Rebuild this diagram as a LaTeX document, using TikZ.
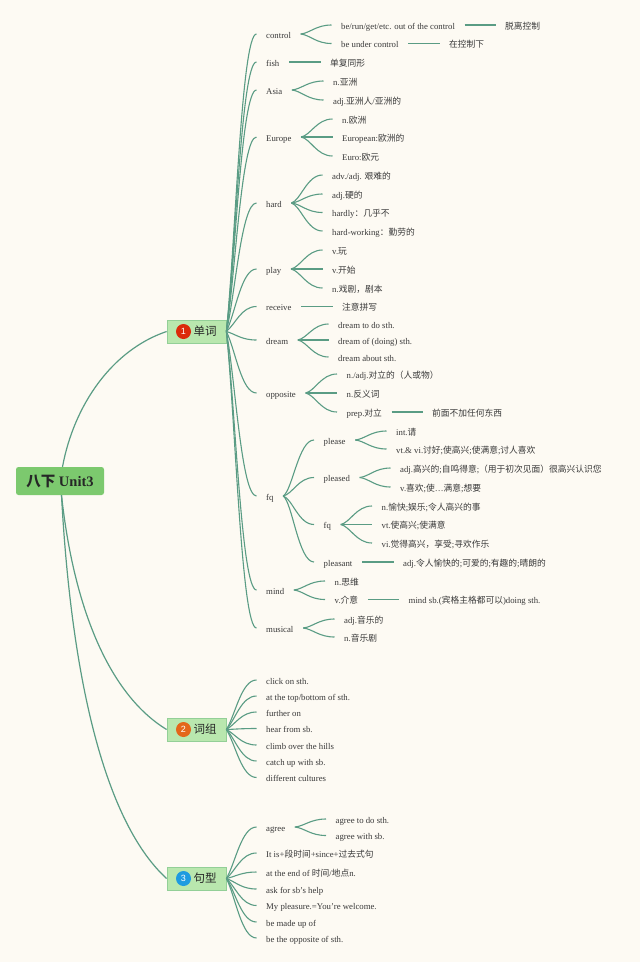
\documentclass[tikz,border=0pt]{standalone}
\usepackage{fontspec}
\setmainfont{Liberation Serif}
\newfontfamily\cjk{Noto Sans CJK SC}
\newfontfamily\sansf{Liberation Sans}
\newcommand{\zh}[1]{{\cjk #1}}
\usetikzlibrary{calc}
\definecolor{bgc}{HTML}{FDFAF3}
\definecolor{linec}{HTML}{5A9C84}
\definecolor{txt}{HTML}{3A3A3A}
\definecolor{rootc}{HTML}{7CC96E}
\definecolor{boxc}{HTML}{B9E7AE}
\definecolor{boxb}{HTML}{93CF97}
\definecolor{bdga}{HTML}{DC2A0B}
\definecolor{bdgb}{HTML}{E4661A}
\definecolor{bdgc}{HTML}{1E9BE0}
\tikzset{
 itm/.style={anchor=west,inner xsep=9.5pt,inner ysep=0pt,text height=8.5pt,text depth=.5pt,font=\fontsize{8.75}{10}\selectfont,text=txt},
 lnk/.style={draw=linec,line width=1.1pt,to path={let \p1=(\tikztostart),\p2=(\tikztotarget) in .. controls ({\x1+0.3*(\x2-\x1)},{\y1+0.1*(\y2-\y1)}) and ({\x1+0.5*(\x2-\x1)},\y2) .. (\tikztotarget)}},
 trunk/.style={draw=linec,line width=1.1pt,to path={let \p1=(\tikztostart),\p2=(\tikztotarget) in .. controls ({\x1+0.3*(\x2-\x1)},{\y1+0.3*(\y2-\y1)}) and ({\x1+0.5*(\x2-\x1)},\y2) .. (\tikztotarget)}},
 topic/.style={draw=boxb,fill=boxc,line width=.8pt,minimum width=59pt,minimum height=23pt,inner sep=0pt},
 badge/.style={circle,minimum size=15pt,inner sep=0pt,text=white,font=\sansf\fontsize{9}{10}\selectfont},
 toplbl/.style={anchor=west,inner sep=0pt,text=black!85,font=\cjk\fontsize{11.5}{12}\selectfont},
 rootn/.style={fill=rootc,rounded corners=2.5pt,minimum width=88pt,minimum height=28pt,inner sep=0pt,font=\bfseries\fontsize{14.5}{16}\selectfont,text=black!85},
}
\newcommand{\nd}[4]{\node[itm] (#1) at ({#2-9.5},{#3-1}) {#4};}
\newcommand{\lk}[2]{\draw[lnk] (#1.east) to (#2.west);}
\newcommand{\tk}[2]{\draw[trunk] (#1.east) to (#2.west);}
\begin{document}
\begin{tikzpicture}[x=1pt,y=-1pt]
\useasboundingbox (0,0) rectangle (640,962);
\fill[bgc] (0,0) rectangle (640,962);
% root and topics
\node[rootn] (root) at (60,481) {\zh{八下} Unit3};
\node[topic] (t1) at (196.5,331.5) {};
\node[topic] (t2) at (196.5,729.5) {};
\node[topic] (t3) at (196.5,878.5) {};
\node[badge,fill=bdga] (b1) at (183.5,331.5) {1};
\node[badge,fill=bdgb] (b2) at (183.5,729.5) {2};
\node[badge,fill=bdgc] (b3) at (183.5,878.5) {3};
\node[toplbl] (l1) at (193.5,331.5) {单词};
\node[toplbl] (l2) at (193.5,729.5) {词组};
\node[toplbl] (l3) at (193.5,878.5) {句型};
\draw[linec,line width=1.2pt] ([xshift=2.5pt]root.north) .. controls (74,405) and (112,350) .. (t1.west);
\draw[linec,line width=1.2pt] ([xshift=1.5pt]root.south) .. controls (74,610) and (110,695) .. (t2.west);
\draw[linec,line width=1.2pt] ([xshift=1.5pt]root.south) .. controls (72,690) and (108,825) .. (t3.west);
% level 1
\nd{control}{266}{35}{control}
\nd{fish}{266}{63}{fish}
\nd{asia}{266}{91}{Asia}
\nd{europe}{266}{138}{Europe}
\nd{hard}{266}{204}{hard}
\nd{play}{266}{270}{play}
\nd{receive}{266}{307.5}{receive}
\nd{dream}{266}{341}{dream}
\nd{opposite}{266}{394}{opposite}
\nd{fq}{266}{497}{fq}
\nd{mind}{266}{591}{mind}
\nd{musical}{266}{629}{musical}
\foreach \who in {control,fish,asia,europe,hard,play,receive,dream,opposite,fq,mind,musical} {\tk{t1}{\who}}
% control
\nd{c1}{341}{26}{be/run/get/etc. out of the control}
\nd{c2}{341}{44.5}{be under control}
\nd{c1a}{505}{26}{\zh{脱离控制}}
\nd{c2a}{449}{44.5}{\zh{在控制下}}
\lk{control}{c1}\lk{control}{c2}\lk{c1}{c1a}\lk{c2}{c2a}
% fish
\nd{f1}{330}{63}{\zh{单复同形}}
\lk{fish}{f1}
% Asia
\nd{a1}{333}{82}{n.\zh{亚洲}}
\nd{a2}{333}{101}{adj.\zh{亚洲人}/\zh{亚洲的}}
\lk{asia}{a1}\lk{asia}{a2}
% Europe
\nd{e1}{342}{120}{n.\zh{欧洲}}
\nd{e2}{342}{138}{European:\zh{欧洲的}}
\nd{e3}{342}{157}{Euro:\zh{欧元}}
\lk{europe}{e1}\lk{europe}{e2}\lk{europe}{e3}
% hard
\nd{h1}{332}{176}{adv./adj. \zh{艰难的}}
\nd{h2}{332}{195}{adj.\zh{硬的}}
\nd{h3}{332}{213.5}{hardly\zh{：几乎不}}
\nd{h4}{332}{232}{hard-working\zh{：勤劳的}}
\lk{hard}{h1}\lk{hard}{h2}\lk{hard}{h3}\lk{hard}{h4}
% play
\nd{p1}{332}{251}{v.\zh{玩}}
\nd{p2}{332}{270}{v.\zh{开始}}
\nd{p3}{332}{289}{n.\zh{戏剧，剧本}}
\lk{play}{p1}\lk{play}{p2}\lk{play}{p3}
% receive
\nd{r1}{342}{307.5}{\zh{注意拼写}}
\lk{receive}{r1}
% dream
\nd{d1}{338}{325}{dream to do sth.}
\nd{d2}{338}{341}{dream of (doing) sth.}
\nd{d3}{338}{358}{dream about sth.}
\lk{dream}{d1}\lk{dream}{d2}\lk{dream}{d3}
% opposite
\nd{o1}{346.5}{375}{n./adj.\zh{对立的（人或物）}}
\nd{o2}{346.5}{394}{n.\zh{反义词}}
\nd{o3}{346.5}{413}{prep.\zh{对立}}
\nd{o3a}{432}{413}{\zh{前面不加任何东西}}
\lk{opposite}{o1}\lk{opposite}{o2}\lk{opposite}{o3}\lk{o3}{o3a}
% fq
\nd{q1}{323.5}{441}{please}
\nd{q2}{323.5}{478.5}{pleased}
\nd{q3}{323.5}{525.5}{fq}
\nd{q4}{323.5}{563}{pleasant}
\lk{fq}{q1}\lk{fq}{q2}\lk{fq}{q3}\lk{fq}{q4}
\nd{q1a}{396}{432}{int.\zh{请}}
\nd{q1b}{396}{450}{vt.\& vi.\zh{讨好};\zh{使高兴};\zh{使满意};\zh{讨人喜欢}}
\lk{q1}{q1a}\lk{q1}{q1b}
\nd{q2a}{400}{469}{adj.\zh{高兴的};\zh{自鸣得意};\zh{（用于初次见面）很高兴认识您}}
\nd{q2b}{400}{488}{v.\zh{喜欢};\zh{使}…\zh{满意};\zh{想要}}
\lk{q2}{q2a}\lk{q2}{q2b}
\nd{q3a}{381.5}{507}{n.\zh{愉快};\zh{娱乐};\zh{令人高兴的事}}
\nd{q3b}{381.5}{525.5}{vt.\zh{使高兴};\zh{使满意}}
\nd{q3c}{381.5}{544}{vi.\zh{觉得高兴，享受};\zh{寻欢作乐}}
\lk{q3}{q3a}\lk{q3}{q3b}\lk{q3}{q3c}
\nd{q4a}{403}{563}{adj.\zh{令人愉快的};\zh{可爱的};\zh{有趣的};\zh{晴朗的}}
\lk{q4}{q4a}
% mind
\nd{m1}{334.5}{582}{n.\zh{思维}}
\nd{m2}{334.5}{600.5}{v.\zh{介意}}
\nd{m2a}{408.5}{600.5}{mind sb.(\zh{宾格主格都可以})doing sth.}
\lk{mind}{m1}\lk{mind}{m2}\lk{m2}{m2a}
% musical
\nd{u1}{344}{620}{adj.\zh{音乐的}}
\nd{u2}{344}{638}{n.\zh{音乐剧}}
\lk{musical}{u1}\lk{musical}{u2}
% phrases
\nd{g1}{266}{681}{click on sth.}
\nd{g2}{266}{697}{at the top/bottom of sth.}
\nd{g3}{266}{713}{further on}
\nd{g4}{266}{729.5}{hear from sb.}
\nd{g5}{266}{746}{climb over the hills}
\nd{g6}{266}{762}{catch up with sb.}
\nd{g7}{266}{778.5}{different cultures}
\foreach \who in {g1,g2,g3,g4,g5,g6,g7} {\tk{t2}{\who}}
% sentences
\nd{s1}{266}{828}{agree}
\nd{s2}{266}{854}{It is+\zh{段时间}+since+\zh{过去式句}}
\nd{s3}{266}{873}{at the end of \zh{时间}/\zh{地点}n.}
\nd{s4}{266}{890}{ask for sb's help}
\nd{s5}{266}{906.5}{My pleasure.=You're welcome.}
\nd{s6}{266}{923}{be made up of}
\nd{s7}{266}{939}{be the opposite of sth.}
\foreach \who in {s1,s2,s3,s4,s5,s6,s7} {\tk{t3}{\who}}
\nd{s1a}{335.5}{820}{agree to do sth.}
\nd{s1b}{335.5}{836.5}{agree with sb.}
\lk{s1}{s1a}\lk{s1}{s1b}
\end{tikzpicture}
\end{document}
